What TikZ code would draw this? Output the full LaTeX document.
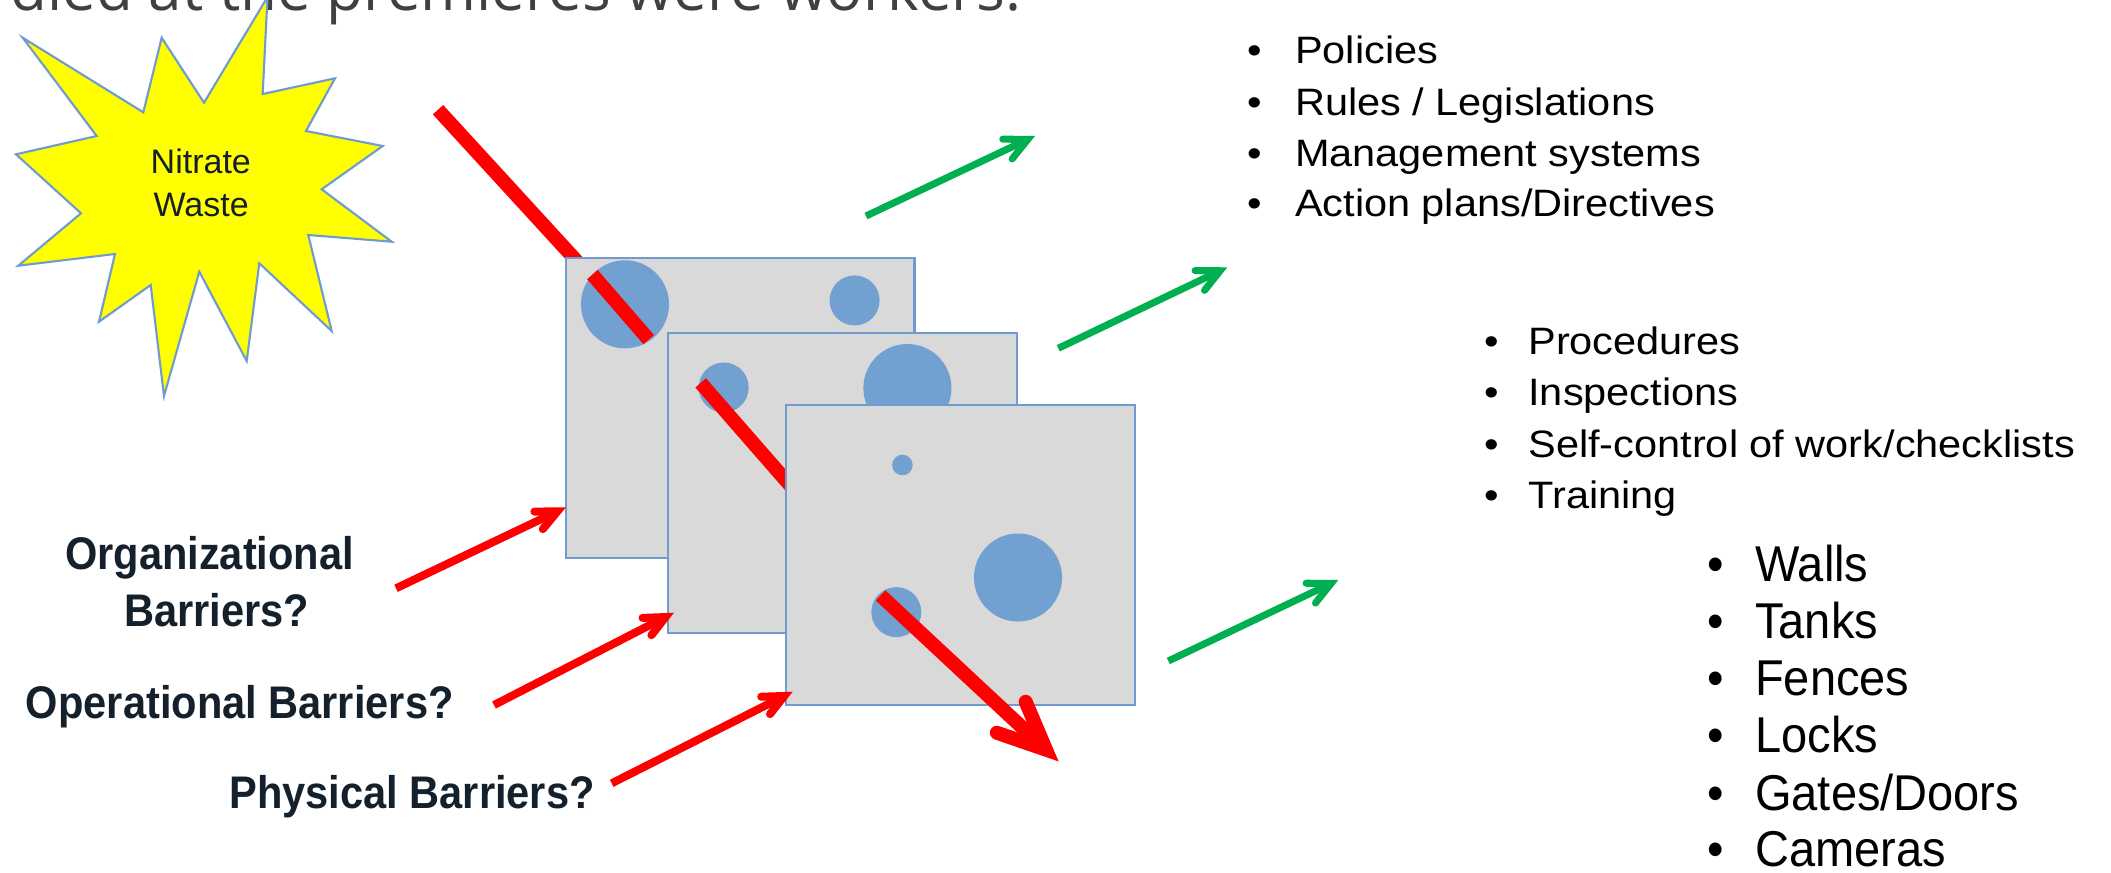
\documentclass[tikz,border=0pt]{standalone}
\usepackage{fontspec}
\usepackage{graphicx}
\usetikzlibrary{calc}
\setmainfont{Liberation Sans}
\newfontfamily\headfont{Open Sans}
\newfontfamily\labelfont[FakeStretch=0.91]{Liberation Sans}

\definecolor{rayred}{HTML}{FF0000}
\definecolor{gogreen}{HTML}{00B050}
\definecolor{holeblue}{HTML}{72A1D1}
\definecolor{panelgray}{HTML}{D9D9D9}
\definecolor{edgeblue}{HTML}{6F9BD1}
\definecolor{inkdark}{HTML}{14202B}
\definecolor{headgray}{HTML}{404040}
\definecolor{starfill}{HTML}{FFFF00}

\tikzset{
  panel/.style={fill=panelgray, draw=edgeblue, line width=0.6pt, anchor=north west,
                minimum width=3.487cm, minimum height=3cm, inner sep=0pt, outer sep=0pt},
  hole/.style={fill=holeblue},
  ray/.style={draw=rayred, line width=3.98pt},
  thinred/.style={draw=rayred, line width=2.28pt},
  greenline/.style={draw=gogreen, line width=2pt},
  headtxt/.style={anchor=base west, inner sep=0pt, text=headgray,
                  font=\headfont\fontsize{17.1}{20}\selectfont},
  startxt/.style={anchor=base, inner sep=0pt, text=inkdark,
                  font=\fontsize{9.67}{12}\selectfont},
  labeltxt/.style={anchor=base, inner sep=0pt, text=inkdark,
                   font=\labelfont\bfseries\fontsize{13}{15}\selectfont},
  itemtxt/.style={anchor=base west, inner sep=0pt, text=black,
                  font=\fontsize{11.8}{14}\selectfont},
  bigitemtxt/.style={anchor=base west, inner sep=0pt, text=black,
                     font=\fontsize{13.37}{16}\selectfont},
}

% shaft from #2 to #3 with an open barb head (#4 inset of the vertex,
% #5 barb length, #6 half angle)
\newcommand\barbarrow[6]{%
  \coordinate (#3v) at ($(#3)!#4!(#2)$);
  \draw[#1] (#2) -- (#3v);
  \draw[#1, line cap=round, line join=miter, miter limit=10]
    ($(#3v)!#5!#6:(#2)$) -- (#3v) -- ($(#3v)!#5!-#6:(#2)$);
}

\begin{document}
\begin{tikzpicture}[x=0.01cm, y=-0.01cm]
\useasboundingbox (0,0) rectangle (2111,872);
\clip (0,0) rectangle (2111,872);

% tail of the slide heading
\node[headtxt] (head) at (10,10) {died at the premieres were workers.};

% hazard burst
\filldraw[fill=starfill, draw=edgeblue, line width=0.6pt, line join=miter]
  (22.7,37.7) -- (143.3,112.3) -- (161.7,37.7) -- (204,102.7) -- (267.5,-3)
  -- (262.7,94) -- (335,78.3) -- (306,131) -- (382.7,146) -- (321.7,189.3)
  -- (391.7,241.7) -- (308.3,235) -- (331.7,331) -- (259.3,263.3)
  -- (246.7,361) -- (199.3,271.7) -- (164,396) -- (150.7,285) -- (99,321.7)
  -- (115,254) -- (18.3,265.7) -- (81,213.3) -- (16,154.3) -- (96.7,136) -- cycle;
\node[startxt] (nitrate) at (200.8,173.3) {Nitrate};
\node[startxt] (waste) at (201.2,216.7) {Waste};

% hazard trajectory, first leg
\coordinate (rayA) at (438,109.7);
\coordinate (rayB) at (648.7,339.6);
\coordinate (holeIn) at (592.4,274.6);
\draw[ray] (rayA) -- (rayB);

% barrier 1
\node[panel] (p1) at (565.6,257.9) {};
\fill[hole] (625,304.3) circle[radius=0.44cm];
\fill[hole] (854.6,300.4) circle[radius=0.25cm];
\draw[ray] (holeIn) -- (rayB);

% barrier 2
\node[panel] (p2) at (668.2,332.9) {};
\fill[hole] (723.7,387.5) circle[radius=0.25cm];
\fill[hole] (907.4,388) circle[radius=0.44cm];
\coordinate (seg2A) at (700.7,382.9);
\coordinate (seg2B) at (800,496.6);
\draw[ray] (seg2A) -- (seg2B);

% barrier 3
\node[panel] (p3) at (785.7,405) {};
\fill[hole] (902.4,465) circle[radius=0.103cm];
\fill[hole] (1018,577.5) circle[radius=0.44cm];
\fill[hole] (896.3,612.1) circle[radius=0.25cm];

% trajectory leaving the last barrier
\coordinate (bigT) at (880.6,595.4);
\coordinate (bigH) at (1058.6,761.4);
\barbarrow{ray}{bigT}{bigH}{0.172cm}{0.52cm}{24}

% barrier-type pointers
\coordinate (orgT) at (396,588.3);
\coordinate (orgH) at (566,507.3);
\coordinate (opT) at (494,705);
\coordinate (opH) at (674,612.7);
\coordinate (phyT) at (611.7,783.3);
\coordinate (phyH) at (792.7,691.7);
\barbarrow{thinred}{orgT}{orgH}{0.095cm}{0.23cm}{25}
\barbarrow{thinred}{opT}{opH}{0.095cm}{0.23cm}{25}
\barbarrow{thinred}{phyT}{phyH}{0.095cm}{0.23cm}{25}

% pointers to the examples
\coordinate (g1T) at (866,216);
\coordinate (g1H) at (1035,136);
\coordinate (g2T) at (1058.3,348.3);
\coordinate (g2H) at (1227.3,267.3);
\coordinate (g3T) at (1168.3,661);
\coordinate (g3H) at (1338.3,580);
\barbarrow{greenline}{g1T}{g1H}{0.08cm}{0.25cm}{26}
\barbarrow{greenline}{g2T}{g2H}{0.08cm}{0.25cm}{26}
\barbarrow{greenline}{g3T}{g3H}{0.08cm}{0.25cm}{26}

% barrier labels
\node[labeltxt] (orgA) at (209.5,569.3) {Organizational};
\node[labeltxt] (orgB) at (216.8,626.7) {Barriers?};
\node[labeltxt] (oplab) at (239.8,718.3) {Operational Barriers?};
\node[labeltxt] (phylab) at (412,808.3) {Physical Barriers?};

% organizational examples
\node[itemtxt] (o1b) at (1247,63.3) {\scalebox{1}[0.92]{\textbullet}};
\node[itemtxt] (o1) at (1294.4,63.3) {\scalebox{1}[0.92]{Policies}};
\node[itemtxt] (o2b) at (1247,115) {\scalebox{1}[0.92]{\textbullet}};
\node[itemtxt] (o2) at (1294.4,115) {\scalebox{1}[0.92]{Rules / Legislations}};
\node[itemtxt] (o3b) at (1247,166.7) {\scalebox{1}[0.92]{\textbullet}};
\node[itemtxt] (o3) at (1294.4,166.7) {\scalebox{1}[0.92]{Management systems}};
\node[itemtxt] (o4b) at (1247,216.7) {\scalebox{1}[0.92]{\textbullet}};
\node[itemtxt] (o4) at (1294.4,216.7) {\scalebox{1}[0.92]{Action plans/Directives}};

% operational examples
\node[itemtxt] (q1b) at (1484,354.7) {\scalebox{1}[0.92]{\textbullet}};
\node[itemtxt] (q1) at (1527.7,354.7) {\scalebox{1}[0.92]{Procedures}};
\node[itemtxt] (q2b) at (1484,405.8) {\scalebox{1}[0.92]{\textbullet}};
\node[itemtxt] (q2) at (1527.7,405.8) {\scalebox{1}[0.92]{Inspections}};
\node[itemtxt] (q3b) at (1484,457.6) {\scalebox{1}[0.92]{\textbullet}};
\node[itemtxt] (q3) at (1527.7,457.6) {\scalebox{1}[0.92]{Self-control of work/checklists}};
\node[itemtxt] (q4b) at (1484,508.7) {\scalebox{1}[0.92]{\textbullet}};
\node[itemtxt] (q4) at (1527.7,508.7) {\scalebox{1}[0.92]{Training}};

% physical examples
\node[bigitemtxt] (f1b) at (1707,581) {\scalebox{1}[1.07]{\textbullet}};
\node[bigitemtxt] (f1) at (1754.5,581) {\scalebox{1}[1.07]{Walls}};
\node[bigitemtxt] (f2b) at (1707,638.6) {\scalebox{1}[1.07]{\textbullet}};
\node[bigitemtxt] (f2) at (1754.5,638.6) {\scalebox{1}[1.07]{Tanks}};
\node[bigitemtxt] (f3b) at (1707,695.8) {\scalebox{1}[1.07]{\textbullet}};
\node[bigitemtxt] (f3) at (1754.5,695.8) {\scalebox{1}[1.07]{Fences}};
\node[bigitemtxt] (f4b) at (1707,752.4) {\scalebox{1}[1.07]{\textbullet}};
\node[bigitemtxt] (f4) at (1754.5,752.4) {\scalebox{1}[1.07]{Locks}};
\node[bigitemtxt] (f5b) at (1707,810.8) {\scalebox{1}[1.07]{\textbullet}};
\node[bigitemtxt] (f5) at (1754.5,810.8) {\scalebox{1}[1.07]{Gates/Doors}};
\node[bigitemtxt] (f6b) at (1707,866) {\scalebox{1}[1.07]{\textbullet}};
\node[bigitemtxt] (f6) at (1754.5,866) {\scalebox{1}[1.07]{Cameras}};
\end{tikzpicture}
\end{document}
